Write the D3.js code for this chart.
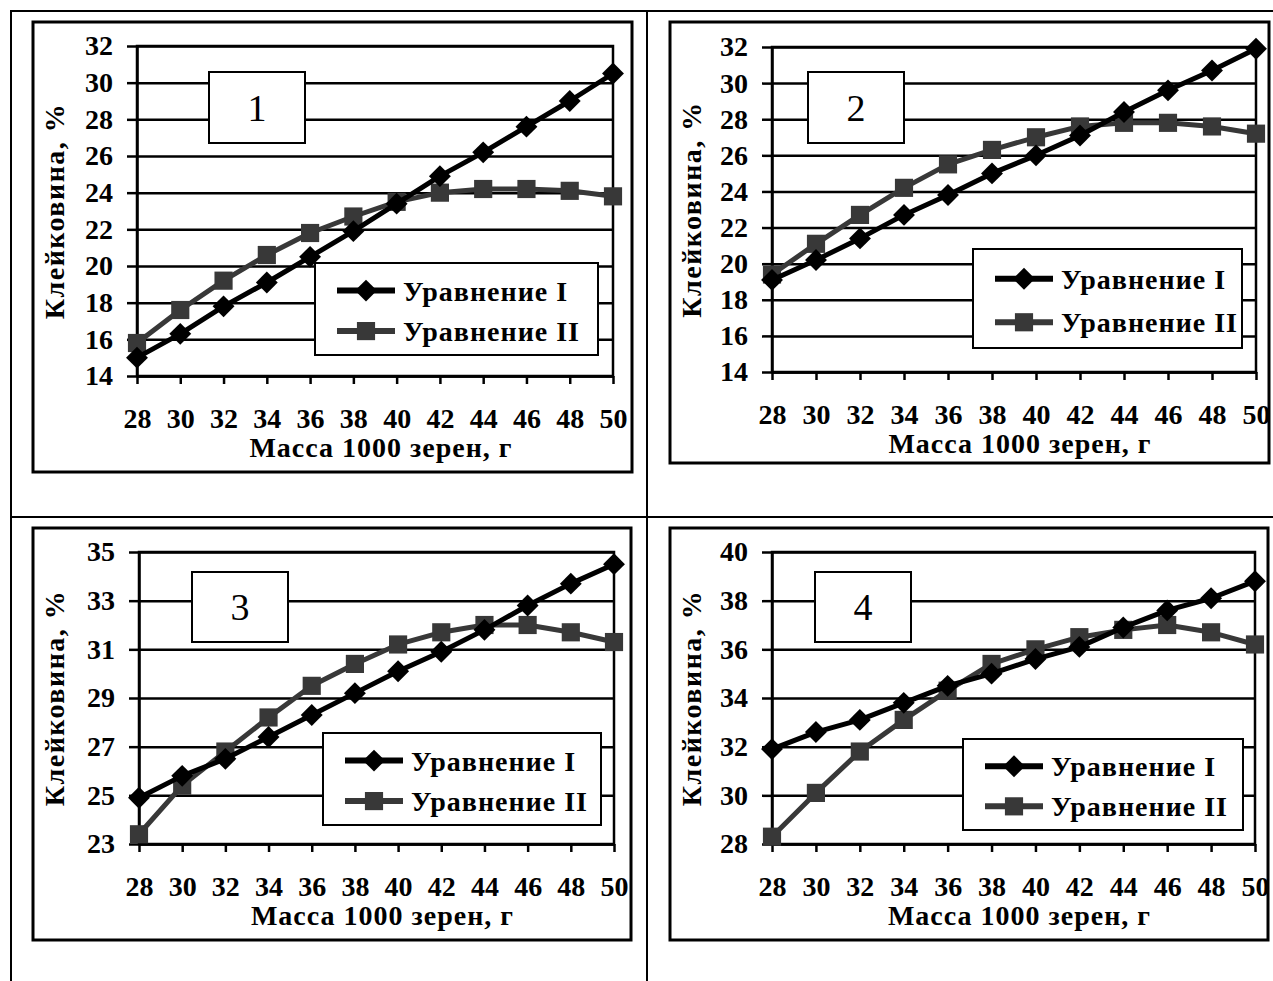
<!DOCTYPE html>
<html>
<head>
<meta charset="utf-8">
<script src="https://cdn.jsdelivr.net/npm/d3@7"></script>
<style>
  body { margin: 0; background: #fff; }
  svg { display: block; }
  svg text { font-family: "Liberation Serif", "Times New Roman", Tinos, serif; }
</style>
</head>
<body>
<div id="svgcontainer"></div>
<script>
// data
var xValues = [28, 30, 32, 34, 36, 38, 40, 42, 44, 46, 48, 50];
var seriesNames = ["Уравнение I", "Уравнение II"];
var xTitle = "Масса 1000 зерен, г";
var yTitle = "Клейковина, %";

var p1I  = [15.0, 16.3, 17.8, 19.1, 20.5, 21.9, 23.4, 24.9, 26.2, 27.6, 29.0, 30.5];
var p1II = [15.8, 17.6, 19.2, 20.6, 21.8, 22.7, 23.5, 24.0, 24.2, 24.2, 24.1, 23.8];
var p2I  = [19.1, 20.2, 21.4, 22.7, 23.8, 25.0, 26.0, 27.1, 28.4, 29.6, 30.7, 31.9];
var p2II = [19.4, 21.1, 22.7, 24.2, 25.5, 26.3, 27.0, 27.6, 27.8, 27.8, 27.6, 27.2];
var p3I  = [24.9, 25.8, 26.5, 27.4, 28.3, 29.2, 30.1, 30.9, 31.8, 32.8, 33.7, 34.5];
var p3II = [23.4, 25.4, 26.8, 28.2, 29.5, 30.4, 31.2, 31.7, 32.0, 32.0, 31.7, 31.3];
var p4I  = [31.9, 32.6, 33.1, 33.8, 34.5, 35.0, 35.6, 36.1, 36.9, 37.6, 38.1, 38.8];
var p4II = [28.3, 30.1, 31.8, 33.1, 34.3, 35.4, 36.0, 36.5, 36.8, 37.0, 36.7, 36.2];

var yTicks12 = [14, 16, 18, 20, 22, 24, 26, 28, 30, 32];
var yTicks3  = [23, 25, 27, 29, 31, 33, 35];
var yTicks4  = [28, 30, 32, 34, 36, 38, 40];
var panelLabels = ["1", "2", "3", "4"];

// layout of each panel (pixel boxes)
var panels = [
  { label: panelLabels[0], s1: p1I, s2: p1II, ticks: yTicks12,
    box: [33, 22, 632, 472], px: [137, 613], py: [46, 376],
    lab: [209, 72, 305, 143], leg: [315, 263, 598, 355] },
  { label: panelLabels[1], s1: p2I, s2: p2II, ticks: yTicks12,
    box: [670, 22, 1269, 463], px: [772, 1256], py: [47, 372],
    lab: [808, 72, 904, 143], leg: [973, 249, 1242, 348] },
  { label: panelLabels[2], s1: p3I, s2: p3II, ticks: yTicks3,
    box: [33, 528, 631, 940], px: [139, 614], py: [552, 844],
    lab: [192, 572, 288, 642], leg: [323, 733, 601, 825] },
  { label: panelLabels[3], s1: p4I, s2: p4II, ticks: yTicks4,
    box: [670, 528, 1268, 940], px: [772, 1255], py: [552, 844],
    lab: [815, 572, 911, 642], leg: [963, 739, 1243, 830] }
];

var COLOR_I = "#000000";
var COLOR_II = "#383838";
var FONT_SIZE = 28;
var FONT = "'Liberation Serif', 'Times New Roman', Tinos, serif";

var svg = d3.select("#svgcontainer").append("svg")
  .attr("width", 1273).attr("height", 981);

svg.append("rect").attr("width", 1273).attr("height", 981).attr("fill", "#fff");

// table lines around the four figures
var tableLines = [[10, 11, 1273, 11], [11, 11, 11, 981], [647, 11, 647, 981], [11, 517, 1273, 517]];
svg.selectAll("line.table").data(tableLines).enter().append("line")
  .attr("class", "table")
  .attr("x1", function(d) { return d[0]; }).attr("y1", function(d) { return d[1]; })
  .attr("x2", function(d) { return d[2]; }).attr("y2", function(d) { return d[3]; })
  .attr("stroke", "#000").attr("stroke-width", 2);

// diamond = square turned by 45 degrees
function marker(type) {
  if (type == "diamond") return d3.symbol().type(d3.symbolSquare).size(240)();
  return d3.symbol().type(d3.symbolSquare).size(330)();
}
function markerRot(type) { return type == "diamond" ? " rotate(45)" : ""; }

panels.forEach(function(p) {
  var g = svg.append("g").attr("font-family", FONT);

  // chart frame
  g.append("rect")
    .attr("x", p.box[0]).attr("y", p.box[1])
    .attr("width", p.box[2] - p.box[0]).attr("height", p.box[3] - p.box[1])
    .attr("fill", "#fff").attr("stroke", "#000").attr("stroke-width", 3);

  var x = d3.scaleLinear().domain([28, 50]).range(p.px);
  var y = d3.scaleLinear().domain(d3.extent(p.ticks)).range([p.py[1], p.py[0]]);
  var w = p.px[1] - p.px[0];

  // gridlines
  g.append("g")
    .attr("transform", "translate(" + p.px[0] + ",0)")
    .call(d3.axisLeft(y).tickValues(p.ticks).tickSize(-w).tickFormat(""))
    .call(function(a) { a.select(".domain").remove(); })
    .selectAll("line").attr("stroke", "#000").attr("stroke-width", 2.5);

  // plot area border
  g.append("rect")
    .attr("x", p.px[0]).attr("y", p.py[0])
    .attr("width", w).attr("height", p.py[1] - p.py[0])
    .attr("fill", "none").attr("stroke", "#000").attr("stroke-width", 2.5);

  // y axis
  var ya = g.append("g")
    .attr("transform", "translate(" + p.px[0] + ",0)")
    .call(d3.axisLeft(y).tickValues(p.ticks).tickSize(10).tickPadding(14).tickSizeOuter(0));
  ya.attr("font-family", FONT).attr("font-size", FONT_SIZE).attr("font-weight", "bold");
  ya.select(".domain").attr("stroke-width", 2.5);
  ya.selectAll("line").attr("stroke-width", 2.5);
  ya.selectAll("text").attr("fill", "#000");

  // x axis
  var xa = g.append("g")
    .attr("transform", "translate(0," + p.py[1] + ")")
    .call(d3.axisBottom(x).tickValues(xValues).tickSize(8).tickPadding(24).tickSizeOuter(0));
  xa.attr("font-family", FONT).attr("font-size", FONT_SIZE).attr("font-weight", "bold");
  xa.select(".domain").attr("stroke-width", 2.5);
  xa.selectAll("line").attr("stroke-width", 2.5);
  xa.selectAll("text").attr("fill", "#000");

  // axis titles
  g.append("text")
    .attr("x", (p.px[0] + p.px[1]) / 2 + 6).attr("y", p.py[1] + 81)
    .attr("text-anchor", "middle").attr("font-size", FONT_SIZE).attr("font-weight", "bold")
    .attr("letter-spacing", 1)
    .text(xTitle);
  g.append("text")
    .attr("transform", "translate(" + (p.box[0] + 31) + "," + ((p.py[0] + p.py[1]) / 2) + ") rotate(-90)")
    .attr("text-anchor", "middle").attr("font-size", FONT_SIZE).attr("font-weight", "bold")
    .attr("letter-spacing", 1.5)
    .text(yTitle);

  // series
  var line = d3.line().x(function(d, i) { return x(xValues[i]); }).y(function(d) { return y(d); });
  var series = [
    { vals: p.s2, color: COLOR_II, type: "square" },
    { vals: p.s1, color: COLOR_I, type: "diamond" }
  ];
  series.forEach(function(s) {
    g.append("path").datum(s.vals).attr("d", line)
      .attr("fill", "none").attr("stroke", s.color).attr("stroke-width", 5)
      .attr("stroke-linejoin", "round");
    g.selectAll(null).data(s.vals).enter().append("path")
      .attr("d", marker(s.type))
      .attr("transform", function(d, i) {
        return "translate(" + x(xValues[i]) + "," + y(d) + ")" + markerRot(s.type);
      })
      .attr("fill", s.color);
  });

  // panel number box
  g.append("rect")
    .attr("x", p.lab[0]).attr("y", p.lab[1])
    .attr("width", p.lab[2] - p.lab[0]).attr("height", p.lab[3] - p.lab[1])
    .attr("fill", "#fff").attr("stroke", "#000").attr("stroke-width", 2);
  g.append("text")
    .attr("x", (p.lab[0] + p.lab[2]) / 2).attr("y", (p.lab[1] + p.lab[3]) / 2 + 13)
    .attr("text-anchor", "middle").attr("font-size", 38)
    .text(p.label);

  // legend
  var L = p.leg, lh = L[3] - L[1];
  g.append("rect")
    .attr("x", L[0]).attr("y", L[1]).attr("width", L[2] - L[0]).attr("height", lh)
    .attr("fill", "#fff").attr("stroke", "#000").attr("stroke-width", 2);
  var legItems = [
    { name: seriesNames[0], color: COLOR_I, type: "diamond", cy: L[1] + lh * 0.3 },
    { name: seriesNames[1], color: COLOR_II, type: "square", cy: L[1] + lh * 0.74 }
  ];
  legItems.forEach(function(it) {
    g.append("line")
      .attr("x1", L[0] + 22).attr("x2", L[0] + 80).attr("y1", it.cy).attr("y2", it.cy)
      .attr("stroke", it.color).attr("stroke-width", 6);
    g.append("path")
      .attr("d", marker(it.type))
      .attr("transform", "translate(" + (L[0] + 51) + "," + it.cy + ")" + markerRot(it.type))
      .attr("fill", it.color);
    g.append("text")
      .attr("x", L[0] + 88).attr("y", it.cy + 10)
      .attr("font-size", FONT_SIZE).attr("font-weight", "bold").attr("letter-spacing", 1)
      .text(it.name);
  });
});
</script>
</body>
</html>
